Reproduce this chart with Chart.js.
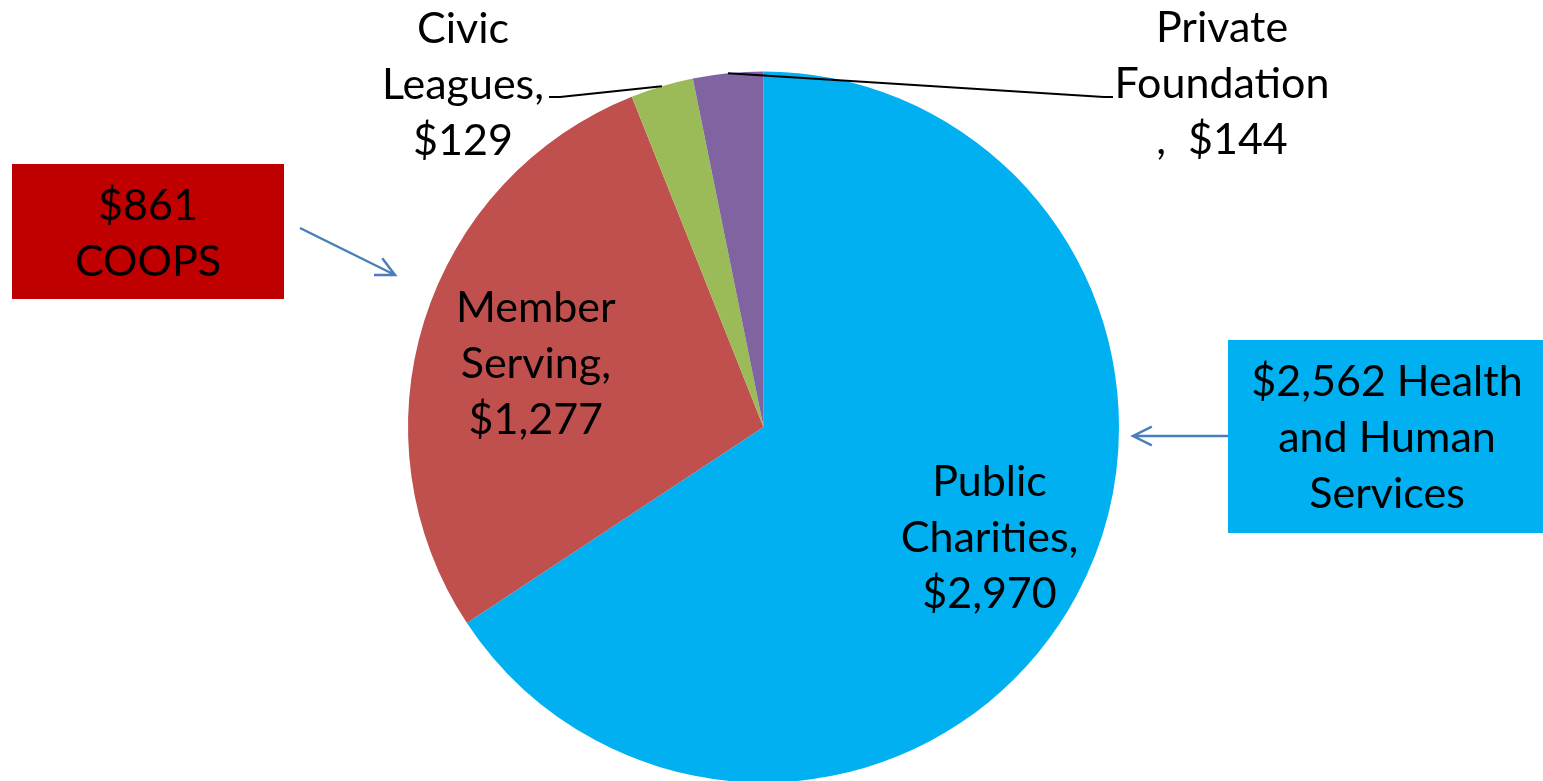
<!DOCTYPE html>
<html>
<head>
<meta charset="utf-8">
<script src="https://cdn.jsdelivr.net/npm/chart.js@4.4.0/dist/chart.umd.min.js"></script>
<style>
  html, body { margin: 0; padding: 0; background: #fff; overflow: hidden; }
  #wrap { width: 1543px; height: 781px; position: relative; }
</style>
</head>
<body>
<div id="wrap"><canvas id="pieChart" width="1543" height="781"></canvas></div>
<script>
// data
const categories = ['Public Charities', 'Member Serving', 'Civic Leagues', 'Private Foundation'];
const amounts = [2970, 1277, 129, 144];
const sliceColors = ['#00B0F0', '#C0504D', '#9BBB59', '#8064A2'];
// label text wrapped the way the original wraps it
const labelLines = [
  ['Public', 'Charities,', '$2,970'],
  ['Member', 'Serving,', '$1,277'],
  ['Civic', 'Leagues,', '$129'],
  ['Private', 'Foundation', ',  $144']
];
const coopsLines = ['$861', 'COOPS'];
const healthLines = ['$2,562 Health', 'and Human', 'Services'];

const FONT_SIZE = 43;
const LINE_H = 56;
const FONT = FONT_SIZE + 'px Lato, "Open Sans", sans-serif';

// how each data label sits: inside (fraction of radius + small angle shift in degrees),
// or outside with a leader line
const labelPlace = [
  { inside: true, frac: 0.706, shift: -2.5 },
  { inside: true, frac: 0.666, shift: -1.5 },
  { inside: false, cx: 463, cy: 84, lineEnd: [549, 97], elbow: [560, 97] },
  { inside: false, cx: 1222, cy: 83, lineEnd: [1113, 97], elbow: [1104, 97] }
];

function drawLines(ctx, lines, cx, cy) {
  // cy = visual centre of the middle of the block
  const capH = FONT_SIZE * 0.72;
  const top = cy - (lines.length - 1) * LINE_H / 2;
  lines.forEach((t, i) => {
    ctx.fillText(t, cx, top + i * LINE_H + capH / 2);
  });
}

function arrow(ctx, x1, y1, x2, y2) {
  const a = Math.atan2(y2 - y1, x2 - x1);
  const h = 21;
  ctx.beginPath();
  ctx.moveTo(x1, y1);
  ctx.lineTo(x2, y2);
  ctx.moveTo(x2 - h * Math.cos(a - 0.46), y2 - h * Math.sin(a - 0.46));
  ctx.lineTo(x2, y2);
  ctx.lineTo(x2 - h * Math.cos(a + 0.46), y2 - h * Math.sin(a + 0.46));
  ctx.stroke();
}

const labelPlugin = {
  id: 'pieLabels',
  afterDraw(chart) {
    const ctx = chart.ctx;
    const arcs = chart.getDatasetMeta(0).data;
    ctx.save();
    ctx.font = FONT;
    ctx.textAlign = 'center';
    ctx.textBaseline = 'alphabetic';

    arcs.forEach((arc, i) => {
      const p = arc.getProps(['x', 'y', 'startAngle', 'endAngle', 'outerRadius'], true);
      const mid = (p.startAngle + p.endAngle) / 2;
      const place = labelPlace[i];
      ctx.fillStyle = '#000';
      if (place.inside) {
        const r = p.outerRadius * place.frac;
        const a = mid + place.shift * Math.PI / 180;
        drawLines(ctx, labelLines[i], p.x + Math.cos(a) * r, p.y + Math.sin(a) * r);
      } else {
        // leader line from slice edge
        ctx.strokeStyle = '#000';
        ctx.lineWidth = 2;
        ctx.beginPath();
        ctx.moveTo(p.x + Math.cos(mid) * p.outerRadius, p.y + Math.sin(mid) * p.outerRadius);
        ctx.lineTo(place.elbow[0], place.elbow[1]);
        ctx.lineTo(place.lineEnd[0], place.lineEnd[1]);
        ctx.stroke();
        drawLines(ctx, labelLines[i], place.cx, place.cy);
      }
    });

    // call-out boxes
    ctx.fillStyle = '#C00000';
    ctx.fillRect(12, 164, 272, 135);
    ctx.fillStyle = '#00B0F0';
    ctx.fillRect(1228, 340, 315, 193);
    ctx.fillStyle = '#000';
    drawLines(ctx, coopsLines, 148, 233);
    drawLines(ctx, healthLines, 1387, 437);

    ctx.strokeStyle = '#4A7EBB';
    ctx.lineWidth = 2.5;
    arrow(ctx, 300, 228, 395, 275);
    arrow(ctx, 1228, 436, 1133, 436);
    ctx.restore();
  }
};

new Chart(document.getElementById('pieChart'), {
  type: 'pie',
  data: {
    labels: categories,
    datasets: [{
      data: amounts,
      backgroundColor: sliceColors,
      borderWidth: 0,
      radius: 355.5
    }]
  },
  options: {
    responsive: false,
    animation: false,
    devicePixelRatio: 1,
    layout: { padding: { left: 408, right: 424, top: 100, bottom: 27 } },
    plugins: {
      legend: { display: false },
      tooltip: { enabled: false }
    }
  },
  plugins: [labelPlugin]
});
</script>
</body>
</html>
